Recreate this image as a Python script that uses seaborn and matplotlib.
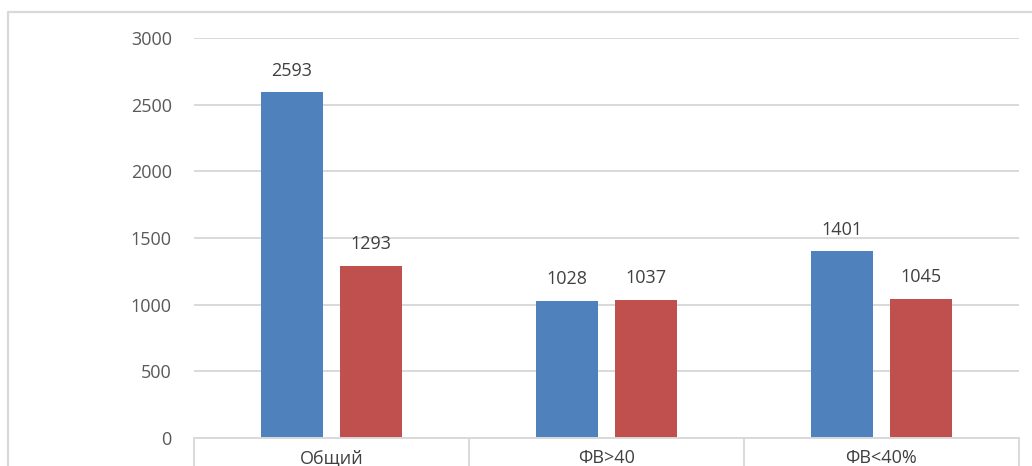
import pandas as pd
import matplotlib
matplotlib.use("Agg")
import matplotlib.pyplot as plt
import seaborn as sns
from matplotlib.lines import Line2D

categories = ["Общий", "ФВ>40", "ФВ<40%"]
series_names = ["Ряд 1", "Ряд 2"]
values_blue = [2593, 1028, 1401]
values_red = [1293, 1037, 1045]
y_ticks = [0, 500, 1000, 1500, 2000, 2500, 3000]

colors = ["#4F81BD", "#C0504D"]
grid_col = "#D9D9D9"

df = pd.DataFrame({
    "category": categories * 2,
    "series": [series_names[0]] * 3 + [series_names[1]] * 3,
    "value": values_blue + values_red,
})

sns.set_style("white")
plt.rcParams["font.family"] = ["Open Sans", "DejaVu Sans"]

fig = plt.figure(figsize=(10.32, 4.66), dpi=100)
ax = fig.add_axes([194 / 1032, 28 / 466, (1019 - 194) / 1032, 400 / 466])

sns.barplot(data=df, x="category", y="value", hue="series", order=categories,
            hue_order=series_names, palette=colors, width=0.575, gap=0.22,
            saturation=1, linewidth=0, legend=False, ax=ax)

for c in ax.containers:
    ax.bar_label(c, padding=9, fontsize=13, color="#404040")

ax.set_ylim(0, 3000)
ax.set_xlim(-0.5, 2.5)
ax.set_yticks(y_ticks)
ax.yaxis.grid(True, color=grid_col, linewidth=1.4)
ax.set_axisbelow(True)
ax.set_xlabel("")
ax.set_ylabel("")

for s in ["top", "right", "left"]:
    ax.spines[s].set_visible(False)
ax.spines["bottom"].set_color(grid_col)
ax.spines["bottom"].set_linewidth(1.4)

# category separators hanging under the axis
ax.set_xticks([-0.5, 0.5, 1.5, 2.5], minor=True)
ax.tick_params(axis="x", which="minor", bottom=True, length=21,
               color=grid_col, width=1.4)
ax.tick_params(axis="x", which="major", bottom=False, length=0, pad=8,
               labelsize=13, labelcolor="#404040")
ax.tick_params(axis="y", length=0, pad=16, labelsize=13, labelcolor="#595959")

# outer chart frame (top and left edges visible)
fig.add_artist(Line2D([8 / 1032, 1.0], [(466 - 12) / 466] * 2,
                      transform=fig.transFigure, color=grid_col, linewidth=1.6))
fig.add_artist(Line2D([8 / 1032] * 2, [0, (466 - 12) / 466],
                      transform=fig.transFigure, color=grid_col, linewidth=1.6))

fig.savefig("out.png", dpi=100)
